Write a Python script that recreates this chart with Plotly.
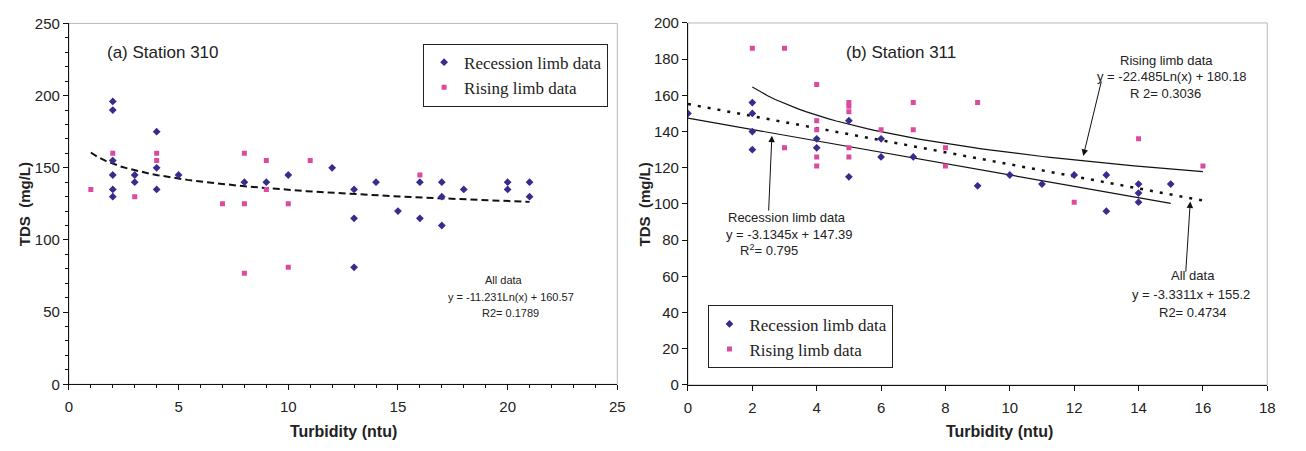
import numpy as np
import plotly.graph_objects as go

# ---------------- data ----------------
# (a) Station 310
a_rec_x = [2, 2, 4, 2, 2, 3, 3, 4, 4, 2, 2, 5, 8, 9, 10, 12, 13, 13, 13, 14, 15, 16, 16, 17, 17, 17, 18, 20, 20, 21, 21]
a_rec_y = [196, 190, 175, 155, 145, 145, 140, 150, 135, 135, 130, 145, 140, 140, 145, 150, 135, 115, 81, 140, 120, 140, 115, 140, 130, 110, 135, 140, 135, 140, 130]
a_ris_x = [1, 2, 3, 4, 4, 7, 8, 8, 8, 9, 9, 10, 10, 11, 16]
a_ris_y = [135, 160, 130, 160, 155, 125, 160, 125, 77, 155, 135, 125, 81, 155, 145]
# all-data log trend (a): y = A ln(x) + B
a_all_coef = (-11.231, 160.57)
a_all_range = (1, 21)

# (b) Station 311
b_rec_x = [0, 2, 2, 2, 2, 4, 4, 5, 5, 6, 6, 7, 9, 10, 11, 12, 13, 13, 14, 14, 14, 15]
b_rec_y = [150, 156, 150, 140, 130, 136, 131, 146, 115, 136, 126, 126, 110, 116, 111, 116, 116, 96, 111, 106, 101, 111]
b_ris_x = [2, 3, 3, 4, 4, 4, 4, 4, 5, 5, 5, 5, 5, 6, 7, 7, 8, 8, 9, 12, 14, 16]
b_ris_y = [186, 186, 131, 166, 146, 141, 126, 121, 156, 154, 151, 131, 126, 141, 156, 141, 131, 121, 156, 101, 136, 121]
# trends (b)
b_rec_coef = (-3.1345, 147.39)   # linear
b_rec_range = (0, 15)
b_ris_coef = (-22.485, 180.18)   # log
b_ris_range = (2, 16)
b_all_coef = (-3.3311, 155.2)    # linear
b_all_range = (0, 16)

BLUE = "#3b2a8e"
PINK = "#dc4aa0"
GRAY = "#bdb5b5"
SANS = "Arial, Liberation Sans, sans-serif"
SERIF = "Times New Roman, Liberation Serif, serif"

W, H = 1306, 451


def px(x):
    return x / W


def py(y):
    return 1 - y / H


def log_curve(coef, rng, n=60):
    xs = np.linspace(rng[0], rng[1], n)
    return xs, coef[0] * np.log(xs) + coef[1]


def lin_curve(coef, rng):
    xs = np.array([rng[0], rng[1]], dtype=float)
    return xs, coef[0] * xs + coef[1]


fig = go.Figure()

mk_rec = dict(symbol="diamond", size=6, color=BLUE)
mk_ris = dict(symbol="square", size=5, color=PINK)

# ---- panel (a)
lx, ly = log_curve(a_all_coef, a_all_range)
fig.add_trace(go.Scatter(x=lx, y=ly, mode="lines", line=dict(color="#111", width=2, dash="7px,4px"),
                         showlegend=False, xaxis="x", yaxis="y", hoverinfo="skip"))
fig.add_trace(go.Scatter(x=a_rec_x, y=a_rec_y, mode="markers", marker=mk_rec, name="Recession limb data",
                         xaxis="x", yaxis="y", legend="legend"))
fig.add_trace(go.Scatter(x=a_ris_x, y=a_ris_y, mode="markers", marker=mk_ris, name="Rising limb data",
                         xaxis="x", yaxis="y", legend="legend"))

# ---- panel (b)
rx, ry = lin_curve(b_rec_coef, b_rec_range)
fig.add_trace(go.Scatter(x=rx, y=ry, mode="lines", line=dict(color="#111", width=1.2),
                         showlegend=False, xaxis="x2", yaxis="y2", hoverinfo="skip"))
sx, sy = log_curve(b_ris_coef, b_ris_range)
fig.add_trace(go.Scatter(x=sx, y=sy, mode="lines", line=dict(color="#111", width=1.2),
                         showlegend=False, xaxis="x2", yaxis="y2", hoverinfo="skip"))
ax_, ay_ = lin_curve(b_all_coef, b_all_range)
fig.add_trace(go.Scatter(x=ax_, y=ay_, mode="lines", line=dict(color="#111", width=2.5, dash="3px,7px"),
                         showlegend=False, xaxis="x2", yaxis="y2", hoverinfo="skip"))
fig.add_trace(go.Scatter(x=b_rec_x, y=b_rec_y, mode="markers", marker=mk_rec, name="Recession limb data",
                         xaxis="x2", yaxis="y2", legend="legend2"))
fig.add_trace(go.Scatter(x=b_ris_x, y=b_ris_y, mode="markers", marker=mk_ris, name="Rising limb data",
                         xaxis="x2", yaxis="y2", legend="legend2"))

tickfont = dict(family=SANS, size=15, color="#222")
axis_common = dict(showline=True, linecolor="#111", linewidth=1, showgrid=False, zeroline=False,
                   ticks="outside", ticklen=5, tickcolor="#111", tickfont=tickfont, fixedrange=True)

legend_common = dict(bgcolor="white", bordercolor="#222", borderwidth=1,
                     font=dict(family=SERIF, size=17, color="#222"),
                     xanchor="left", yanchor="top", tracegroupgap=0)

fig.update_layout(
    width=W, height=H,
    margin=dict(l=0, r=0, t=0, b=0),
    paper_bgcolor="white", plot_bgcolor="white",
    xaxis=dict(domain=[px(65.5), px(619)], range=[0, 25], dtick=5, anchor="y", ticklabelstandoff=4,
               minor=dict(dtick=1, ticks="outside", ticklen=3, tickcolor="#111"), **axis_common),
    yaxis=dict(domain=[py(390), py(15)], range=[0, 250], dtick=50, anchor="x",
               minor=dict(dtick=10, ticks="outside", ticklen=3, tickcolor="#111"), **axis_common),
    xaxis2=dict(domain=[px(690.3), px(1275)], range=[0, 18], dtick=2, anchor="y2", ticklabelstandoff=4,
                **axis_common),
    yaxis2=dict(domain=[py(390.7), py(14.5)], range=[0, 200], dtick=20, anchor="x2", **axis_common),
    legend=dict(x=px(423), y=py(36), **legend_common),
    legend2=dict(x=px(711), y=py(308), **legend_common),
    shapes=[
        dict(type="rect", xref="x domain", yref="y domain", x0=0, x1=1, y0=0, y1=1,
             line=dict(color=GRAY, width=1), layer="below"),
        dict(type="rect", xref="x2 domain", yref="y2 domain", x0=0, x1=1, y0=0, y1=1,
             line=dict(color=GRAY, width=1), layer="below"),
    ],
)

ann = []


def txt(t, x, y, size, bold=False, xanchor="center"):
    ann.append(dict(text=("<b>%s</b>" % t) if bold else t, x=px(x), y=py(y), xref="paper", yref="paper",
                    showarrow=False, xanchor=xanchor, yanchor="middle",
                    font=dict(family=SANS, size=size, color="#222")))


# titles
txt("(a) Station 310", 102, 45, 17, xanchor="left")
txt("(b) Station 311", 848, 45, 17, xanchor="left")
# axis titles
txt("Turbidity (ntu)", 343, 439, 16, bold=True)
txt("Turbidity (ntu)", 1005, 439, 16, bold=True)
for xx in (21, 646):
    ann.append(dict(text="<b>TDS  (mg/L)</b>", x=px(xx), y=py(203), xref="paper", yref="paper",
                    showarrow=False, textangle=-90, xanchor="center", yanchor="middle",
                    font=dict(family=SANS, size=15, color="#222")))

# panel (a) equation
txt("All data", 505, 282, 11)
txt("y = -11.231Ln(x) + 160.57", 512, 299, 11)
txt("R2= 0.1789", 511, 316, 11)

# panel (b) equations
txt("Rising limb data", 1173, 54, 13)
txt("y = -22.485Ln(x) + 180.18", 1179, 70, 13)
txt("R 2= 0.3036", 1172, 88, 13)

txt("Recession limb data", 790, 217, 13)
txt("y = -3.1345x + 147.39", 792, 234, 13)
txt("R<sup>2</sup>= 0.795", 772, 250, 13)

txt("All data", 1200, 277, 13)
txt("y = -3.3311x + 155.2", 1198, 297, 13)
txt("R2= 0.4734", 1200, 315, 13)


def arrow(hx, hy, tx, ty):
    ann.append(dict(text="", x=px(hx), y=py(hy), xref="paper", yref="paper", showarrow=True,
                    ax=tx - hx, ay=ty - hy, arrowhead=2, arrowsize=1.3, arrowwidth=1, arrowcolor="#111",
                    standoff=0, startstandoff=0))


arrow(1089.3, 152.7, 1107.7, 76.7)
arrow(775, 131.7, 771.7, 208)
arrow(1197.3, 200, 1192.7, 271.7)

fig.update_layout(annotations=ann)

fig.write_html("out.html")
